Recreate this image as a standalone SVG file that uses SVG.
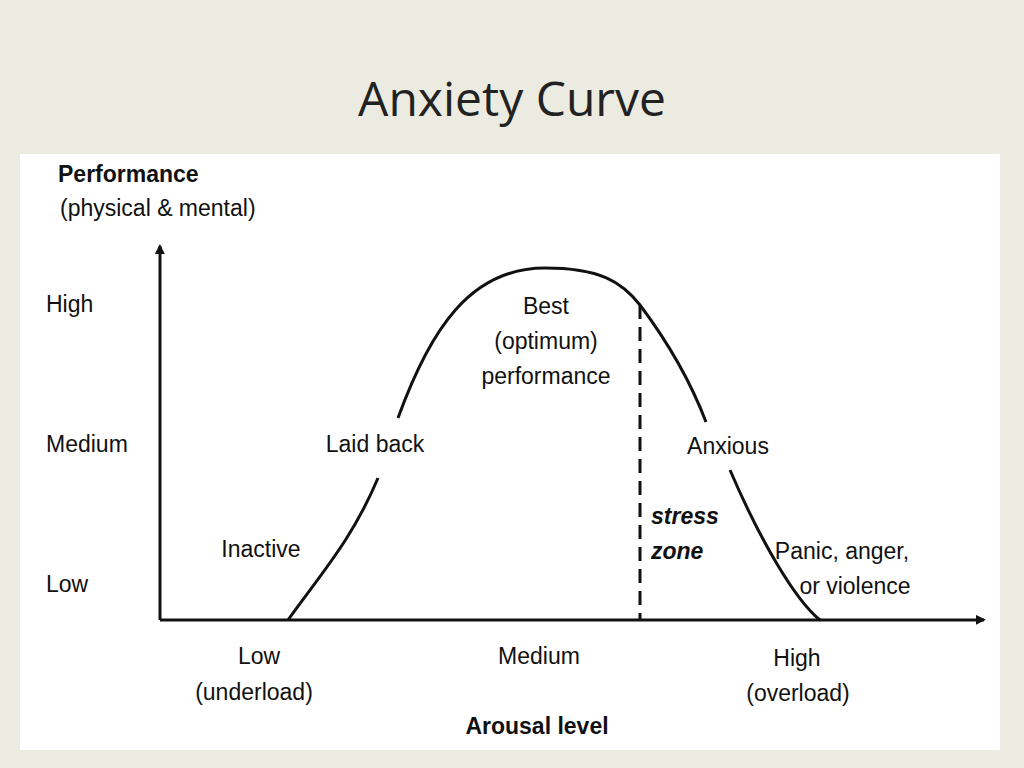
<svg xmlns="http://www.w3.org/2000/svg" width="1024" height="768" viewBox="0 0 1024 768">
<style>
text{font-family:"Liberation Sans",Arial,sans-serif;fill:#111;font-size:23px}
.b{font-weight:bold}
.i{font-weight:bold;font-style:italic}
.c{text-anchor:middle}
.ln{stroke:#111;stroke-width:3;fill:none}
</style>
<defs><marker id="ar" markerWidth="10" markerHeight="10" refX="8" refY="5" orient="auto" markerUnits="userSpaceOnUse"><path d="M0,0 L10,5 L0,10 z" transform="scale(1.8) translate(-4.5,-2.3)" fill="#111"/></marker></defs>
<rect width="1024" height="768" fill="#ecebe1"/>
<text x="512" y="116" class="c" style="font-family:'Open Sans','Liberation Sans',sans-serif;font-size:48px;fill:#222">Anxiety Curve</text>
<rect x="20" y="154" width="980" height="596" fill="#fff"/>
<g id="connectors">
<path class="ln" d="M160,620 V246" marker-end="url(#ar)"/>
<path class="ln" d="M160,620 H984" marker-end="url(#ar)"/>
<path class="ln" d="M288,620 C320,575 352,540 378,478 M398,418 C430,330 470,268 545,268 C600,268 622,282 640,305 C670,345 690,380 706,422 M730,470 C760,540 795,600 820,620"/>
<path d="M640,305 V620" stroke="#111" stroke-width="3" stroke-dasharray="14,8"/>
</g>
<g id="labels">
<text x="58" y="182" class="b">Performance</text>
<text x="60" y="216">(physical &amp; mental)</text>
<text x="46" y="312">High</text>
<text x="46" y="452">Medium</text>
<text x="46" y="592">Low</text>
<text x="546" y="314" class="c">Best</text>
<text x="546" y="349" class="c">(optimum)</text>
<text x="546" y="384" class="c">performance</text>
<text x="375" y="452" class="c">Laid back</text>
<text x="728" y="454" class="c">Anxious</text>
<text x="261" y="557" class="c">Inactive</text>
<text x="651" y="524" class="i">stress</text>
<text x="651" y="559" class="i">zone</text>
<text x="842" y="559" class="c">Panic, anger,</text>
<text x="855" y="594" class="c">or violence</text>
<text x="259" y="664" class="c">Low</text>
<text x="254" y="700" class="c">(underload)</text>
<text x="539" y="664" class="c">Medium</text>
<text x="797" y="666" class="c">High</text>
<text x="798" y="701" class="c">(overload)</text>
<text x="537" y="734" class="c b">Arousal level</text>
</g>
</svg>
